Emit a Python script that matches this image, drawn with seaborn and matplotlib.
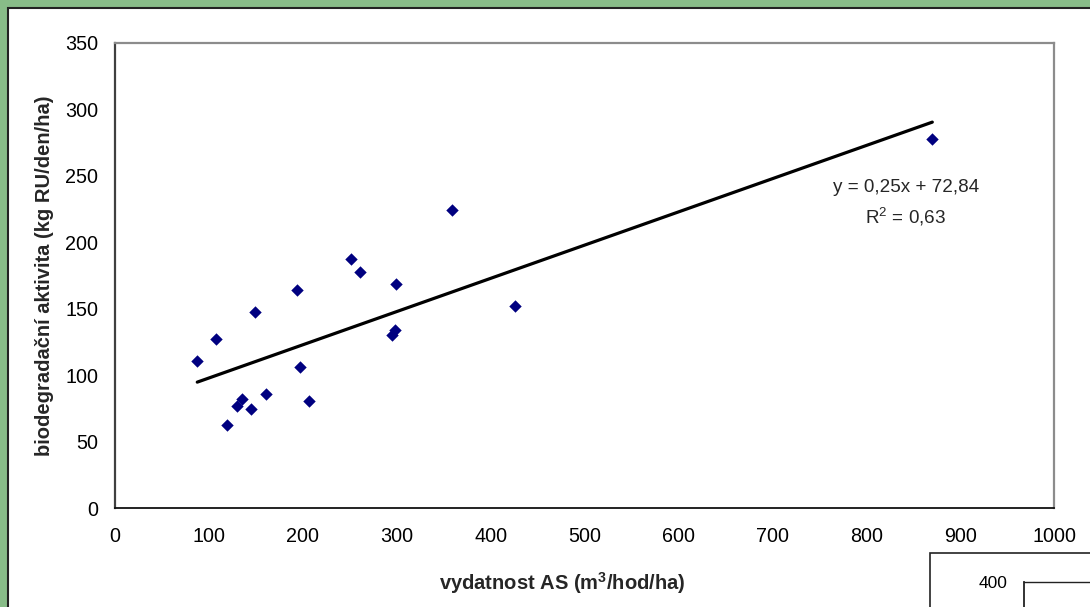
import numpy as np
import matplotlib
matplotlib.use("Agg")
import matplotlib.pyplot as plt
from matplotlib.patches import Rectangle
import seaborn as sns

# Measured flow rate of activated sludge vs. biodegradation activity
vydatnost = [87.6, 107.2, 149.1, 193.8, 197.3, 134.9, 129.6, 145.2, 160.8, 206.3,
             119.3, 251.0, 261.2, 299.3, 358.6, 426.3, 294.7, 298.2, 870.4]
aktivita = [110.4, 127.2, 147.7, 164.1, 106.4, 82.3, 77.0, 74.7, 85.6, 80.8,
            62.5, 187.4, 177.4, 168.8, 224.1, 151.8, 130.2, 133.7, 277.7]

# Linear trend as reported in the equation label
slope = 0.25
intercept = 72.84
r2 = 0.63

x_ticks = [0, 100, 200, 300, 400, 500, 600, 700, 800, 900, 1000]
y_ticks = [0, 50, 100, 150, 200, 250, 300, 350]

sns.set_style("white")
plt.rcParams["font.family"] = ["Liberation Sans", "DejaVu Sans"]
plt.rcParams["mathtext.fontset"] = "custom"
plt.rcParams["mathtext.rm"] = "Liberation Sans"
plt.rcParams["mathtext.bf"] = "Liberation Sans:bold"
plt.rcParams["mathtext.default"] = "regular"

W, H = 1090, 607
fig = plt.figure(figsize=(W / 100, H / 100), dpi=100)
fig.patch.set_facecolor("#88BC88")

# white chart area with dark frame
fig.patches.append(Rectangle((8 / W, -0.2), 1.2, (H - 8) / H + 0.2,
                             transform=fig.transFigure, facecolor="white",
                             edgecolor="#222222", lw=1.5, zorder=-5))

ax = fig.add_axes([115 / W, 1 - 508 / H, 939 / W, 465 / H])
ax.set_facecolor("white")

sns.scatterplot(x=vydatnost, y=aktivita, marker="D", s=40, color="#000080",
                linewidth=0, ax=ax, zorder=3)

xs = np.array([min(vydatnost), max(vydatnost)])
sns.lineplot(x=xs, y=slope * xs + intercept, color="black", lw=2.3, ax=ax, zorder=2)

ax.set_xlim(0, 1000)
ax.set_ylim(0, 350)
ax.set_xticks(x_ticks)
ax.set_yticks(y_ticks)
ax.tick_params(axis="both", labelsize=14.2, colors="#222222", labelcolor="black",
               direction="out", length=6, width=1)
ax.tick_params(axis="x", pad=8)
ax.tick_params(axis="y", pad=6)

for side in ["top", "right"]:
    ax.spines[side].set_visible(True)
    ax.spines[side].set_color("#8c8c8c")
    ax.spines[side].set_linewidth(1.6)
ax.spines["left"].set_color("#404040")
ax.spines["left"].set_linewidth(1.6)
ax.spines["bottom"].set_color("#111111")
ax.spines["bottom"].set_linewidth(1.3)

ax.set_xlabel("vydatnost AS (m$^3$/hod/ha)", fontsize=14.5, fontweight="bold")
ax.xaxis.set_label_coords((562 - 115) / 939, -0.133)
ax.set_ylabel("biodegradační aktivita (kg RU/den/ha)", fontsize=14.5,
              fontweight="bold", labelpad=8)

eq = f"y = {slope:.2f}x + {intercept:.2f}".replace(".", ",")
ax.text(842, 241, eq, ha="center", va="center", fontsize=13.6)
ax.text(842, 219, ("R$^2$ = " + f"{r2:.2f}").replace(".", ","), ha="center",
        va="center", fontsize=13.6)

# neighbouring chart peeking in at the lower right corner
fig.patches.append(Rectangle((930 / W, -0.2), 1, (H - 553) / H + 0.2,
                             transform=fig.transFigure, facecolor="white",
                             edgecolor="#222222", lw=1.2, zorder=2))
ax2 = fig.add_axes([1024 / W, -1.0, 1.0, 1.0 + (H - 582) / H], zorder=3)
ax2.set_ylim(0, 400)
ax2.set_xlim(0, 1)
ax2.set_yticks([400])
ax2.set_xticks([])
ax2.tick_params(axis="y", labelsize=12.5, direction="out", length=8, width=1,
                colors="#222222", labelcolor="black", pad=4)
ax2.spines["left"].set_color("#222222")
ax2.spines["left"].set_linewidth(1.3)
ax2.spines["top"].set_color("#222222")
ax2.spines["top"].set_linewidth(1.0)
ax2.spines["right"].set_visible(False)
ax2.spines["bottom"].set_visible(False)

fig.savefig("out.png", dpi=100, facecolor=fig.get_facecolor())
